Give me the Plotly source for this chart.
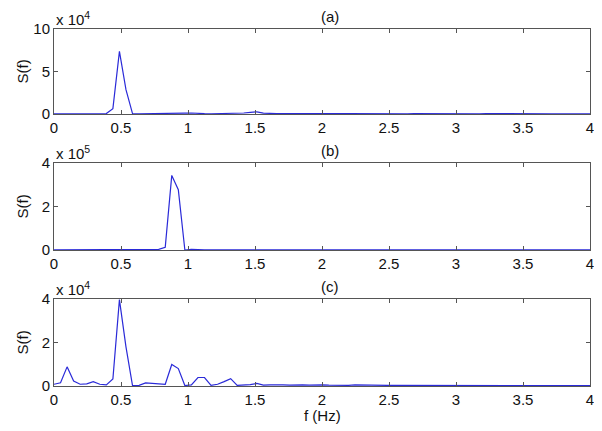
import plotly.graph_objects as go

df = 100 / 2048
n = 83
freq = [round(k * df, 5) for k in range(n)]

# Panel (a) values in units of 1e4
s_a = [0.02, 0.02, 0.02, 0.02, 0.02, 0.02, 0.02, 0.02, 0.05, 0.63,
       7.37, 2.86, 0.05, 0.03, 0.03, 0.03, 0.03, 0.04, 0.05, 0.06,
       0.10, 0.12, 0.06, 0.04, 0.03, 0.04, 0.05, 0.04, 0.06, 0.12,
       0.20, 0.26, 0.10, 0.05, 0.04, 0.05, 0.04, 0.03, 0.04, 0.05,
       0.06, 0.04, 0.03, 0.03, 0.04, 0.05, 0.04, 0.03, 0.03, 0.04,
       0.05, 0.04, 0.03, 0.03, 0.03, 0.04, 0.03, 0.03, 0.03, 0.04,
       0.05, 0.04, 0.03, 0.03, 0.03, 0.03, 0.04, 0.03, 0.03, 0.03,
       0.03, 0.03, 0.03, 0.03, 0.03, 0.03, 0.03, 0.03, 0.03, 0.03,
       0.03, 0.03, 0.03]

# Panel (b) values in units of 1e5
s_b = [0.005, 0.005, 0.005, 0.005, 0.005, 0.005, 0.005, 0.005, 0.005, 0.005,
       0.005, 0.005, 0.005, 0.005, 0.005, 0.005, 0.03, 0.12, 3.43, 2.77,
       0.00, 0.03, 0.005, 0.005, 0.005, 0.005, 0.005, 0.005, 0.005, 0.005,
       0.005, 0.005, 0.005, 0.005, 0.005, 0.005, 0.005, 0.005, 0.005, 0.005,
       0.005, 0.005, 0.005, 0.005, 0.005, 0.005, 0.005, 0.005, 0.005, 0.005,
       0.005, 0.005, 0.005, 0.005, 0.005, 0.005, 0.005, 0.005, 0.005, 0.005,
       0.005, 0.005, 0.005, 0.005, 0.005, 0.005, 0.005, 0.005, 0.005, 0.005,
       0.005, 0.005, 0.005, 0.005, 0.005, 0.005, 0.005, 0.005, 0.005, 0.005,
       0.005, 0.005, 0.005]

# Panel (c) values in units of 1e4
s_c = [0.08, 0.15, 0.88, 0.23, 0.08, 0.10, 0.20, 0.08, 0.05, 0.32,
       3.97, 1.80, 0.02, 0.03, 0.14, 0.12, 0.08, 0.08, 0.99, 0.80,
       0.02, 0.05, 0.39, 0.39, 0.03, 0.08, 0.20, 0.34, 0.03, 0.04,
       0.06, 0.12, 0.04, 0.05, 0.06, 0.05, 0.04, 0.06, 0.05, 0.04,
       0.06, 0.05, 0.04, 0.03, 0.04, 0.03, 0.05, 0.04, 0.03, 0.04,
       0.03, 0.03, 0.03, 0.03, 0.04, 0.03, 0.03, 0.03, 0.02, 0.03,
       0.03, 0.02, 0.02, 0.03, 0.02, 0.02, 0.02, 0.02, 0.02, 0.02,
       0.02, 0.02, 0.02, 0.02, 0.02, 0.02, 0.02, 0.02, 0.02, 0.02,
       0.02, 0.02, 0.02]

panels = [
    dict(vals=[v * 1e4 for v in s_a], ymax=10e4, ticks=[0, 5e4, 10e4], labels=["0", "5", "10"],
         exp="4", title="(a)", top=29, bottom=114),
    dict(vals=[v * 1e5 for v in s_b], ymax=4e5, ticks=[0, 2e5, 4e5], labels=["0", "2", "4"],
         exp="5", title="(b)", top=163, bottom=250),
    dict(vals=[v * 1e4 for v in s_c], ymax=4e4, ticks=[0, 2e4, 4e4], labels=["0", "2", "4"],
         exp="4", title="(c)", top=299, bottom=386),
]

# page body has an 8px margin: shift everything by it
OFF = 8
W, H = 602 - OFF, 431 - OFF
x0, x1 = 54 - OFF, 590 - OFF
font = dict(family="Liberation Sans, Arial, sans-serif", size=15, color="#111111")
axcol = "#555555"


def py(pix):
    return 1 - (pix - OFF) / H


fig = go.Figure()
annotations = []
for i, p in enumerate(panels, start=1):
    xa = "x" if i == 1 else f"x{i}"
    ya = "y" if i == 1 else f"y{i}"
    fig.add_trace(go.Scatter(x=freq, y=p["vals"], mode="lines",
                             line=dict(color="#2a2ad8", width=1.2),
                             xaxis=xa, yaxis=ya, showlegend=False, hoverinfo="skip"))
    dom_y = [py(p["bottom"]), py(p["top"])]
    xkey = "xaxis" if i == 1 else f"xaxis{i}"
    ykey = "yaxis" if i == 1 else f"yaxis{i}"
    fig.update_layout(**{
        xkey: dict(domain=[x0 / W, x1 / W], range=[0, 4], anchor=ya, automargin=False,
                   tickmode="array", tickvals=[0, 0.5, 1, 1.5, 2, 2.5, 3, 3.5, 4],
                   ticktext=["0", "0.5", "1", "1.5", "2", "2.5", "3", "3.5", "4"],
                   ticks="inside", ticklen=4, tickcolor=axcol, showline=True,
                   linecolor=axcol, linewidth=1, mirror="allticks", showgrid=False,
                   zeroline=False, tickfont=font),
        ykey: dict(domain=dom_y, range=[0, p["ymax"]], anchor=xa, automargin=False,
                   tickmode="array", tickvals=p["ticks"], ticktext=p["labels"],
                   ticks="inside", ticklen=4, tickcolor=axcol, showline=True,
                   linecolor=axcol, linewidth=1, mirror="allticks", showgrid=False,
                   zeroline=False, tickfont=font),
    })
    annotations.append(dict(text="S(f)", xref="paper", yref="paper", textangle=-90,
                            x=(22 - OFF) / W, y=py((p["top"] + p["bottom"]) / 2),
                            xanchor="center", yanchor="middle", showarrow=False, font=font))
    annotations.append(dict(text="x 10<sup>" + p["exp"] + "</sup>", xref="paper", yref="paper",
                            x=x0 / W, y=py(p["top"] - 11), xanchor="left", yanchor="middle",
                            showarrow=False, font=font))
    annotations.append(dict(text=p["title"], xref="paper", yref="paper",
                            x=(330 - OFF) / W, y=py(p["top"] - 13),
                            xanchor="center", yanchor="middle", showarrow=False, font=font))

annotations.append(dict(text="f (Hz)", xref="paper", yref="paper", x=(322 - OFF) / W,
                        y=py(415), xanchor="center", yanchor="middle",
                        showarrow=False, font=font))

fig.update_layout(width=W, height=H, margin=dict(l=0, r=0, t=0, b=0),
                  paper_bgcolor="white", plot_bgcolor="white",
                  annotations=annotations, font=font)

fig.write_html("out.html")
